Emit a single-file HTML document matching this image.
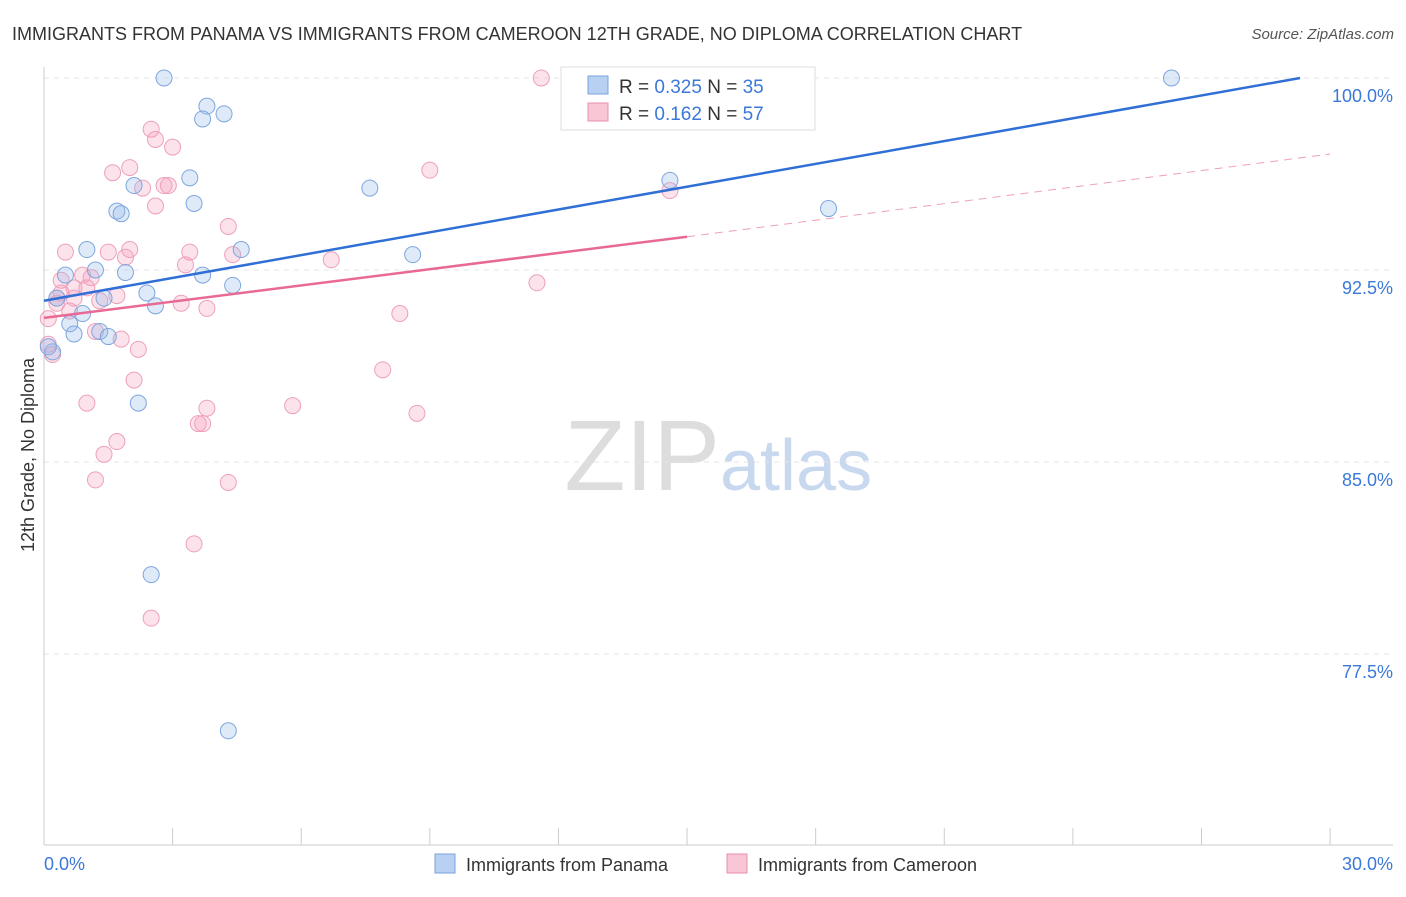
<!DOCTYPE html>
<html><head><meta charset="utf-8"><style>
body{margin:0;background:#fff;font-family:"Liberation Sans",sans-serif}
svg text{font-family:"Liberation Sans",sans-serif}
</style></head><body>
<svg id="chart" width="1406" height="892" xmlns="http://www.w3.org/2000/svg">
<text x="12" y="40" font-size="18" fill="#333">IMMIGRANTS FROM PANAMA VS IMMIGRANTS FROM CAMEROON 12TH GRADE, NO DIPLOMA CORRELATION CHART</text>
<text x="1394" y="39" font-size="15" fill="#555" font-style="italic" text-anchor="end">Source: ZipAtlas.com</text>
<text x="720" y="490" font-size="100" fill="#ddd" text-anchor="end" font-family="Liberation Serif">ZIP</text>
<text x="720" y="490" font-size="72" fill="#c8d8ee">atlas</text>
<g id="grid"></g><g id="axes"></g><g id="marks"></g>
<text transform="translate(34,455) rotate(-90)" font-size="18" fill="#333" text-anchor="middle">12th Grade, No Diploma</text>
<g>
<rect x="561" y="67" width="254" height="63" fill="#fff" stroke="#ddd"/>
<rect x="588" y="76" width="20" height="18" fill="#b8d0f2" stroke="#7aa3dd"/>
<rect x="588" y="103" width="20" height="18" fill="#f9c6d6" stroke="#eb8fae"/>
<text x="619" y="93" font-size="19" fill="#333">R = <tspan fill="#3b78d8">0.325</tspan>   N = <tspan fill="#3b78d8">35</tspan></text>
<text x="619" y="120" font-size="19" fill="#333">R =  <tspan fill="#3b78d8">0.162</tspan>   N = <tspan fill="#3b78d8">57</tspan></text>
</g>
<g>
<rect x="435" y="854" width="20" height="19" fill="#b8d0f2" stroke="#7aa3dd"/>
<text x="466" y="871" font-size="18" fill="#333">Immigrants from Panama</text>
<rect x="727" y="854" width="20" height="19" fill="#f9c6d6" stroke="#eb8fae"/>
<text x="758" y="871" font-size="18" fill="#333">Immigrants from Cameroon</text>
</g>
</svg>
<script>
const yTicks=[77.5,85.0,92.5,100.0];
const xTickLabels=["0.0%","30.0%"];
const panamaX=[2.8,3.8,3.7,4.2,3.4,2.1,3.5,1.7,1.8,1.0,4.6,7.6,8.6,14.6,18.3,26.3,1.2,0.5,1.9,3.7,4.4,2.4,2.6,0.3,1.4,0.9,0.6,0.7,1.3,1.5,0.2,0.1,2.2,2.5,4.3];
const panamaY=[100,98.9,98.4,98.6,96.1,95.8,95.1,94.8,94.7,93.3,93.3,95.7,93.1,96.0,94.9,100,92.5,92.3,92.4,92.3,91.9,91.6,91.1,91.4,91.4,90.8,90.4,90.0,90.1,89.9,89.3,89.5,87.3,80.6,74.5];
const cameroonX=[11.6,2.5,2.6,3.0,2.0,1.6,9.0,2.3,2.8,2.9,2.6,14.6,4.3,0.5,1.5,2.0,3.4,1.9,4.4,3.3,6.7,0.9,1.1,0.4,11.5,0.7,0.3,1.3,3.2,3.8,8.3,0.6,1.2,1.8,2.2,0.1,0.2,7.9,2.1,1.0,3.8,5.8,3.6,3.7,8.7,1.7,1.4,1.2,4.3,3.5,2.5,0.3,0.7,1.0,0.1,0.4,1.7];
const cameroonY=[100,98.0,97.6,97.3,96.5,96.3,96.4,95.7,95.8,95.8,95.0,95.6,94.2,93.2,93.2,93.3,93.2,93.0,93.1,92.7,92.9,92.3,92.2,92.1,92.0,91.8,91.4,91.3,91.2,91.0,90.8,90.9,90.1,89.8,89.4,89.6,89.2,88.6,88.2,87.3,87.1,87.2,86.5,86.5,86.9,85.8,85.3,84.3,84.2,81.8,78.9,91.2,91.4,91.8,90.6,91.6,91.5];
const panamaTrend=[[0,91.3],[29.3,100]];
const cameroonTrendSolid=[[0,90.63],[15,93.8]];
const cameroonTrendDash=[[15,93.8],[30,97.03]];
const X=v=>44+v*42.87, Y=v=>78+(100-v)*25.6;
const NS="http://www.w3.org/2000/svg";
function mk(p,t,a){const e=document.createElementNS(NS,t);for(const k in a)e.setAttribute(k,a[k]);document.getElementById(p).appendChild(e);return e;}
yTicks.forEach(v=>{
 const l=mk('grid','line',{x1:44,x2:1393,y1:Y(v),y2:Y(v),stroke:'#e4e4e4','stroke-dasharray':'5,5'});
 
 
 const t=mk('axes','text',{x:1393,y:Y(v)+24,'font-size':18,fill:'#3b78d8','text-anchor':'end'});
 t.textContent=v.toFixed(1)+'%';
 
 
});
const yl=mk('axes','line',{x1:44,x2:44,y1:67,y2:845,stroke:'#ccc'});


const xl=mk('axes','line',{x1:44,x2:1393,y1:845,y2:845,stroke:'#ccc'});


for(let i=0;i<=10;i++){const t=mk('axes','line',{x1:X(i*3),x2:X(i*3),y1:828,y2:845,stroke:'#ccc'});
 
 }
const x0=mk('axes','text',{x:44,y:870,'font-size':18,fill:'#3b78d8'});x0.textContent=xTickLabels[0];


const x1=mk('axes','text',{x:1393,y:870,'font-size':18,fill:'#3b78d8','text-anchor':'end'});x1.textContent=xTickLabels[1];


cameroonX.forEach((v,i)=>{const c=mk('marks','circle',{cx:X(v),cy:Y(cameroonY[i]),r:8,fill:'rgba(244,160,190,0.3)',stroke:'#eea0ba','stroke-width':1});
 
 });
panamaX.forEach((v,i)=>{const c=mk('marks','circle',{cx:X(v),cy:Y(panamaY[i]),r:8,fill:'rgba(150,185,235,0.3)',stroke:'#7ea6de','stroke-width':1});
 
 });
const l1=mk('marks','line',{x1:X(panamaTrend[0][0]),y1:Y(panamaTrend[0][1]),x2:X(panamaTrend[1][0]),y2:Y(panamaTrend[1][1]),stroke:'#2f6fd6','stroke-width':2.5});


const l2=mk('marks','line',{x1:X(cameroonTrendSolid[0][0]),y1:Y(cameroonTrendSolid[0][1]),x2:X(cameroonTrendSolid[1][0]),y2:Y(cameroonTrendSolid[1][1]),stroke:'#e86a94','stroke-width':2.5});


const l3=mk('marks','line',{x1:X(cameroonTrendDash[0][0]),y1:Y(cameroonTrendDash[0][1]),x2:X(cameroonTrendDash[1][0]),y2:Y(cameroonTrendDash[1][1]),stroke:'#eea0ba','stroke-width':1,'stroke-dasharray':'8,6'});


</script>
</body></html>
